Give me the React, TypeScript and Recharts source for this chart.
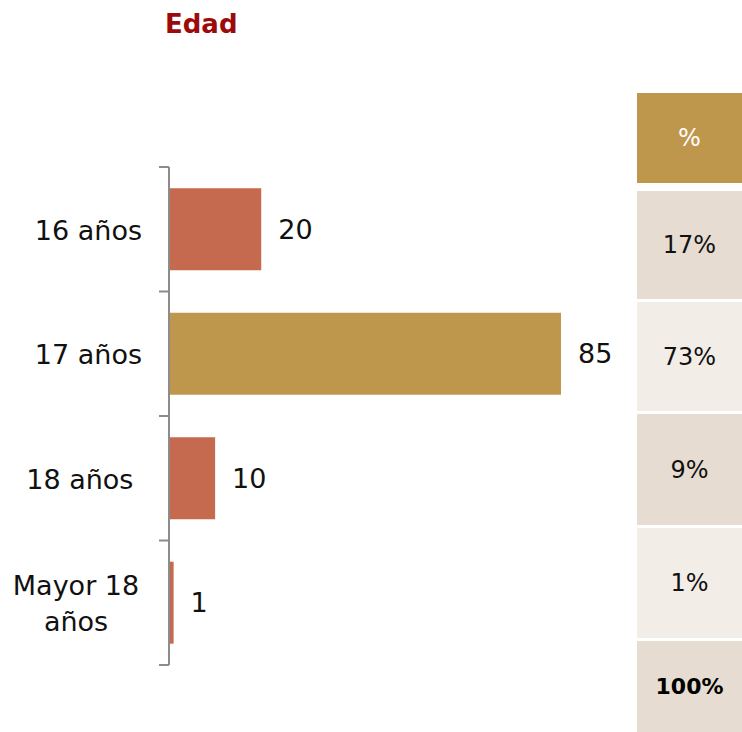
import { BarChart, Bar, XAxis, YAxis, Cell, LabelList } from 'recharts'

const categories = ['16 años', '17 años', '18 años ', 'Mayor 18|años']
const counts = [20, 85, 10, 1]
const barColors = ['#C5694F', '#BF974C', '#C5694F', '#C5694F']
const pctHeader = '%'
const pctValues = ['17%', '73%', '9%', '1%']
const pctTotal = '100%'

const FONT = '"DejaVu Sans", sans-serif'
const W = 742
const H = 732
const PLOT_LEFT = 169
const PLOT_TOP = 167
const PLOT_BOTTOM = 665
const PLOT_RIGHT = 561
const BAND = (PLOT_BOTTOM - PLOT_TOP) / categories.length

const data = categories.map((name, i) => ({ name, value: counts[i] }))

function CategoryTick(props: any) {
  const { y, payload, index } = props
  const label: string = payload.value
  const lines = label.split('|')
  const top = y - BAND / 2
  return (
    <g>
      <line x1={PLOT_LEFT - 10} x2={PLOT_LEFT} y1={top} y2={top} stroke="#8c8c8c" strokeWidth={2} />
      {index === categories.length - 1 && (
        <line x1={PLOT_LEFT - 10} x2={PLOT_LEFT} y1={y + BAND / 2} y2={y + BAND / 2} stroke="#8c8c8c" strokeWidth={2} />
      )}
      {lines.length === 1 ? (
        <text
          x={PLOT_LEFT - 27}
          y={y + 1}
          dy="0.36em"
          textAnchor="end"
          fontSize={27}
          fill="#111"
          style={{ whiteSpace: 'pre', fontFamily: FONT }}
        >
          {label}
        </text>
      ) : (
        <text x={PLOT_LEFT - 93} y={y} textAnchor="middle" fontSize={27} fill="#111" style={{ fontFamily: FONT }}>
          {lines.map((ln, i) => (
            <tspan key={i} x={PLOT_LEFT - 93} dy={i === 0 ? '-0.3em' : '1.33em'}>
              {ln}
            </tspan>
          ))}
        </text>
      )}
    </g>
  )
}

const tableRows = [
  { text: pctHeader, h: 90, gap: 0, bg: '#BF974C', color: '#fff', bold: false },
  { text: pctValues[0], h: 108, gap: 8, bg: '#E7DCD1', color: '#111', bold: false },
  { text: pctValues[1], h: 109, gap: 3, bg: '#F2EDE7', color: '#111', bold: false },
  { text: pctValues[2], h: 111, gap: 3, bg: '#E7DCD1', color: '#111', bold: false },
  { text: pctValues[3], h: 110, gap: 3, bg: '#F2EDE7', color: '#111', bold: false },
  { text: pctTotal, h: 91, gap: 3, bg: '#E7DCD1', color: '#000', bold: true },
]

export default function App() {
  return (
    <div style={{ position: 'absolute', left: 0, top: 0, width: W, height: H, background: '#fff', fontFamily: FONT }}>
      <div
        style={{
          position: 'absolute',
          left: 165,
          top: 9,
          fontSize: 26,
          fontWeight: 700,
          color: '#9C0A0A',
        }}
      >
        Edad
      </div>

      <div style={{ position: 'absolute', left: 0, top: 0 }}>
        <BarChart
          width={W}
          height={H}
          data={data}
          layout="vertical"
          barCategoryGap="17%"
          margin={{ top: PLOT_TOP, right: W - PLOT_RIGHT, bottom: H - PLOT_BOTTOM, left: 9 }}
        >
          <XAxis type="number" domain={[0, 85]} hide />
          <YAxis
            type="category"
            dataKey="name"
            width={PLOT_LEFT - 9}
            axisLine={{ stroke: '#8c8c8c', strokeWidth: 2 }}
            tickLine={false}
            tick={<CategoryTick />}
            interval={0}
          />
          <Bar dataKey="value" isAnimationActive={false}>
            {data.map((d, i) => (
              <Cell key={d.name} fill={barColors[i]} />
            ))}
            <LabelList
              dataKey="value"
              position="right"
              offset={17}
              fontSize={27}
              fill="#111"
              style={{ fontFamily: FONT }}
            />
          </Bar>
        </BarChart>
      </div>

      <div style={{ position: 'absolute', left: 637, top: 93, width: W - 637 }}>
        {tableRows.map((r, i) => (
          <div
            key={i}
            style={{
              height: r.h,
              marginTop: r.gap,
              background: r.bg,
              color: r.color,
              fontWeight: r.bold ? 700 : 400,
              fontSize: r.bold ? 22 : 24,
              display: 'flex',
              alignItems: 'center',
              justifyContent: 'center',
            }}
          >
            {r.text}
          </div>
        ))}
      </div>
    </div>
  )
}
